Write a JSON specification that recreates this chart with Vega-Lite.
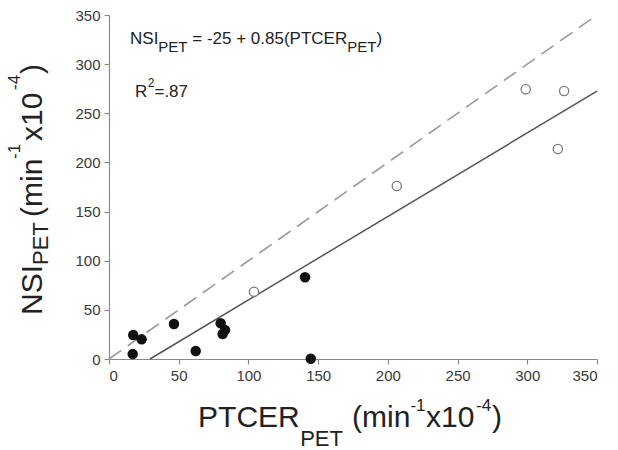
{
  "$schema": "https://vega.github.io/schema/vega-lite/v6.json",
  "width": 488,
  "height": 344,
  "autosize": {"type": "none"},
  "padding": {"left": 109, "top": 15, "right": 21, "bottom": 91},
  "background": "white",
  "config": {
    "view": {"stroke": null},
    "text": {"font": "Liberation Sans"},
    "axis": {
      "grid": false,
      "title": null,
      "labelFont": "Liberation Sans",
      "labelFontSize": 15,
      "labelColor": "#3a3a3a",
      "domainColor": "#8a8a8a",
      "tickColor": "#8a8a8a",
      "tickSize": 5,
      "domainWidth": 1.2,
      "tickWidth": 1.2
    }
  },
  "datasets": {
    "points": [
      {"group": "filled", "x": 17.4, "y": 24.4},
      {"group": "filled", "x": 23.4, "y": 20},
      {"group": "filled", "x": 17, "y": 5},
      {"group": "filled", "x": 46.6, "y": 35.6},
      {"group": "filled", "x": 62.2, "y": 8.1},
      {"group": "filled", "x": 80.1, "y": 36.3},
      {"group": "filled", "x": 83.2, "y": 29.5},
      {"group": "filled", "x": 81.5, "y": 25.4},
      {"group": "filled", "x": 140.6, "y": 83.1},
      {"group": "filled", "x": 144.7, "y": 0.3},
      {"group": "open", "x": 104, "y": 68.5},
      {"group": "open", "x": 206.4, "y": 176},
      {"group": "open", "x": 298.9, "y": 274.4},
      {"group": "open", "x": 326.4, "y": 272.6},
      {"group": "open", "x": 321.9, "y": 213.6}
    ],
    "lines": [
      {"series": "identity", "x": 0, "y": 0},
      {"series": "identity", "x": 350, "y": 350},
      {"series": "fit", "x": 29.4, "y": 0},
      {"series": "fit", "x": 350, "y": 272.5}
    ],
    "labels": [
      {"role": "xmain", "text": "PTCER", "x": 63.9, "y": -69.2},
      {"role": "xsub", "text": "PET", "x": 137.1, "y": -89.0},
      {"role": "xmain", "text": "(min", "x": 174.3, "y": -69.2},
      {"role": "xsup", "text": "-1", "x": 216.2, "y": -52.9},
      {"role": "xmain", "text": "x10", "x": 227.4, "y": -69.2},
      {"role": "xsup", "text": "-4", "x": 263.2, "y": -52.9},
      {"role": "xmain", "text": ")", "x": 274.7, "y": -69.2},
      {"role": "ymain", "text": "NSI", "x": -48.1, "y": 44.8},
      {"role": "ysub", "text": "PET", "x": -43.7, "y": 95.6},
      {"role": "ymain", "text": "(min", "x": -48.1, "y": 144.5},
      {"role": "ysup", "text": "-1", "x": -63.8, "y": 203.5},
      {"role": "ymain", "text": "x10", "x": -48.1, "y": 221.8},
      {"role": "ysup", "text": "-4", "x": -63.8, "y": 273.7},
      {"role": "ymain", "text": ")", "x": -48.1, "y": 289.9},
      {"role": "eqmain", "text": "NSI", "x": 15.1, "y": 321},
      {"role": "eqsub", "text": "PET", "x": 35.4, "y": 312.5},
      {"role": "eqmain", "text": "= -25 + 0.85(PTCER", "x": 59.7, "y": 321},
      {"role": "eqsub", "text": "PET", "x": 170.8, "y": 312.5},
      {"role": "eqmain", "text": ")", "x": 191.8, "y": 321},
      {"role": "eqmain", "text": "R", "x": 18.6, "y": 266.8},
      {"role": "eqsup", "text": "2", "x": 27.8, "y": 276.4},
      {"role": "eqmain", "text": "=.87", "x": 32.6, "y": 266.8}
    ]
  },
  "encoding": {
    "x": {
      "field": "x",
      "type": "quantitative",
      "scale": {"domain": [0, 350], "nice": false, "zero": false},
      "axis": {"values": [0, 50, 100, 150, 200, 250, 300, 350], "labelPadding": 4}
    },
    "y": {
      "field": "y",
      "type": "quantitative",
      "scale": {"domain": [0, 350], "nice": false, "zero": false},
      "axis": {"values": [0, 50, 100, 150, 200, 250, 300, 350], "labelPadding": 4}
    }
  },
  "layer": [
    {
      "data": {"name": "lines"},
      "transform": [{"filter": "datum.series === 'identity'"}],
      "mark": {"type": "line", "color": "#9a9a9a", "strokeWidth": 1.6, "strokeDash": [15, 8]},
      "encoding": {}
    },
    {
      "data": {"name": "lines"},
      "transform": [{"filter": "datum.series === 'fit'"}],
      "mark": {"type": "line", "color": "#555555", "strokeWidth": 1.5},
      "encoding": {}
    },
    {
      "data": {"name": "points"},
      "transform": [{"filter": "datum.group === 'filled'"}],
      "mark": {"type": "circle", "color": "#111111", "size": 110, "opacity": 1},
      "encoding": {}
    },
    {
      "data": {"name": "points"},
      "transform": [{"filter": "datum.group === 'open'"}],
      "mark": {"type": "point", "shape": "circle", "filled": false, "fill": "white", "fillOpacity": 1, "stroke": "#7a7a7a", "strokeWidth": 1.3, "size": 85, "opacity": 1},
      "encoding": {}
    },
    {
      "data": {"name": "labels"},
      "transform": [{"filter": "datum.role === 'xmain'"}],
      "mark": {"type": "text", "fontSize": 30, "align": "left", "baseline": "alphabetic", "color": "#222222"},
      "encoding": {"text": {"field": "text"}}
    },
    {
      "data": {"name": "labels"},
      "transform": [{"filter": "datum.role === 'xsub'"}],
      "mark": {"type": "text", "fontSize": 22, "align": "left", "baseline": "alphabetic", "color": "#222222"},
      "encoding": {"text": {"field": "text"}}
    },
    {
      "data": {"name": "labels"},
      "transform": [{"filter": "datum.role === 'xsup'"}],
      "mark": {"type": "text", "fontSize": 17, "align": "left", "baseline": "alphabetic", "color": "#222222"},
      "encoding": {"text": {"field": "text"}}
    },
    {
      "data": {"name": "labels"},
      "transform": [{"filter": "datum.role === 'ymain'"}],
      "mark": {"type": "text", "fontSize": 30, "angle": 270, "align": "left", "baseline": "alphabetic", "color": "#222222"},
      "encoding": {"text": {"field": "text"}}
    },
    {
      "data": {"name": "labels"},
      "transform": [{"filter": "datum.role === 'ysub'"}],
      "mark": {"type": "text", "fontSize": 22, "angle": 270, "align": "left", "baseline": "alphabetic", "color": "#222222"},
      "encoding": {"text": {"field": "text"}}
    },
    {
      "data": {"name": "labels"},
      "transform": [{"filter": "datum.role === 'ysup'"}],
      "mark": {"type": "text", "fontSize": 17, "angle": 270, "align": "left", "baseline": "alphabetic", "color": "#222222"},
      "encoding": {"text": {"field": "text"}}
    },
    {
      "data": {"name": "labels"},
      "transform": [{"filter": "datum.role === 'eqmain'"}],
      "mark": {"type": "text", "fontSize": 17, "align": "left", "baseline": "alphabetic", "color": "#222222"},
      "encoding": {"text": {"field": "text"}}
    },
    {
      "data": {"name": "labels"},
      "transform": [{"filter": "datum.role === 'eqsub'"}],
      "mark": {"type": "text", "fontSize": 15, "align": "left", "baseline": "alphabetic", "color": "#222222"},
      "encoding": {"text": {"field": "text"}}
    },
    {
      "data": {"name": "labels"},
      "transform": [{"filter": "datum.role === 'eqsup'"}],
      "mark": {"type": "text", "fontSize": 12, "align": "left", "baseline": "alphabetic", "color": "#222222"},
      "encoding": {"text": {"field": "text"}}
    }
  ]
}
